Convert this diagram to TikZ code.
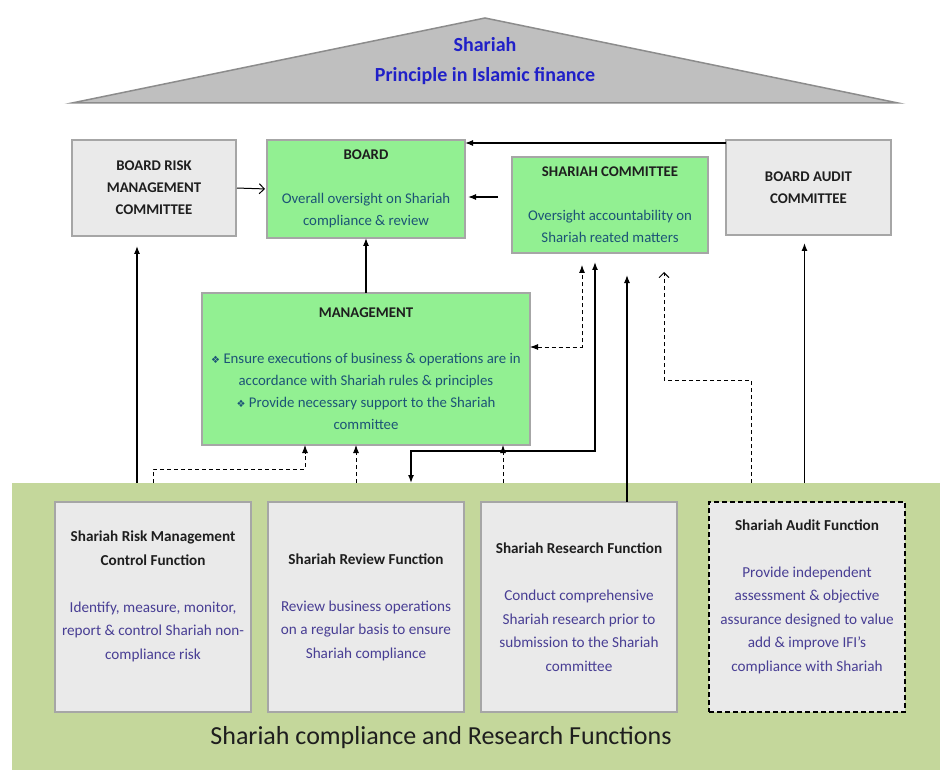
\documentclass[tikz,border=0pt]{standalone}
\usepackage{fontspec}
\setmainfont{Carlito}
\newfontfamily\symfont{DejaVu Sans}
\usetikzlibrary{arrows.meta,positioning}
\definecolor{roofgray}{RGB}{191,191,191}
\definecolor{roofedge}{RGB}{140,140,140}
\definecolor{boxgray}{RGB}{234,234,234}
\definecolor{edgegray}{RGB}{166,166,166}
\definecolor{boardgreen}{RGB}{146,240,146}
\definecolor{bandgreen}{RGB}{196,215,155}
\definecolor{roofblue}{RGB}{32,32,200}
\definecolor{tealtext}{RGB}{28,84,118}
\definecolor{fntext}{RGB}{72,62,148}
\definecolor{titletext}{RGB}{30,30,30}
\newcommand{\bul}{{\symfont\fontsize{10}{10}\selectfont ❖}\ }
\newcommand{\gtxt}[1]{{\color{tealtext}#1}}
\newcommand{\ftxt}[1]{{\color{fntext}#1}}

\begin{document}
\begin{tikzpicture}[
    x=1pt, y=1pt,
    every node/.style={inner sep=0pt, outer sep=0pt},
    box/.style={rectangle, draw=edgegray, line width=1.2pt, align=center, text=titletext, font=\fontsize{14.8}{22}\selectfont},
    greybox/.style={box, fill=boxgray},
    greenbox/.style={box, fill=boardgreen},
    fnbox/.style={box, fill=boxgray, minimum width=196pt, minimum height=210pt, font=\fontsize{15.2}{23.5}\selectfont},
    auditbox/.style={fnbox, draw=black, dash pattern=on 5pt off 3pt, line width=1.5pt},
    arrow/.style={-{Latex[length=8pt,width=6pt]}, line width=1.2pt},
    dblarrow/.style={{Latex[length=8pt,width=6pt]}-{Latex[length=8pt,width=6pt]}, line width=1.4pt},
    darrow/.style={arrow, line width=0.9pt, dash pattern=on 4pt off 3pt},
    ddarrow/.style={dblarrow, line width=0.9pt, dash pattern=on 4pt off 3pt},
    openarrow/.style={-{Straight Barb[length=5pt,width=10pt]}, line width=1pt},
    dopenarrow/.style={openarrow, line width=0.9pt, dash pattern=on 4pt off 3pt}
]
\fill[white] (0,0) rectangle (940,-770);
\useasboundingbox (0,0) rectangle (940,-770);

% Roof
\draw[fill=roofgray, draw=roofedge, line width=1.5pt] (72,-103) -- (485,-18) -- (898,-103) -- cycle;
\node[font=\bfseries\fontsize{20}{30}\selectfont, text=roofblue, align=center] (roof) at (485,-61) {Shariah\\Principle in Islamic finance};

% Board level
\node[greybox, minimum width=164pt, minimum height=96pt, anchor=north west] (brmc) at (72,-140) {\textbf{BOARD RISK}\\\textbf{MANAGEMENT}\\\textbf{COMMITTEE}};
\node[greenbox, minimum width=198pt, minimum height=98pt, right=31pt of brmc.north east, anchor=north west] (board) {\textbf{BOARD}\\[22pt]\gtxt{Overall oversight on Shariah}\\\gtxt{compliance \& review}};
\node[greenbox, minimum width=196pt, minimum height=96pt, right=47pt of board.north east, anchor=north west, yshift=-17pt] (shcomm) {\textbf{SHARIAH COMMITTEE}\\[22pt]\gtxt{Oversight accountability on}\\\gtxt{Shariah reated matters}};
\node[greybox, minimum width=165pt, minimum height=95pt, anchor=north west] (bac) at (726,-140) {\textbf{BOARD AUDIT}\\\textbf{COMMITTEE}};

% Management
\node[greenbox, minimum width=328pt, minimum height=152pt, below=55pt of board.south, anchor=north] (mgmt) {\textbf{MANAGEMENT}\\[24pt]\gtxt{\bul Ensure executions of business \& operations are in}\\\gtxt{accordance with Shariah rules \& principles}\\\gtxt{\bul Provide necessary support to the Shariah}\\\gtxt{committee}};

% Functions band
\node[rectangle, fill=bandgreen, minimum width=928pt, minimum height=287pt, anchor=north west] (band) at (12,-483) {};
\node[fnbox, anchor=north west] (riskfn) at (55,-502) {\textbf{Shariah Risk Management}\\\textbf{Control Function}\\[23.5pt]\ftxt{Identify, measure, monitor,}\\\ftxt{report \& control Shariah non-}\\\ftxt{compliance risk}\\\mbox{}};
\node[fnbox, right=17pt of riskfn] (reviewfn) {\textbf{Shariah Review Function}\\[23.5pt]\ftxt{Review business operations}\\\ftxt{on a regular basis to ensure}\\\ftxt{Shariah compliance}};
\node[fnbox, right=17pt of reviewfn] (researchfn) {\textbf{Shariah Research Function}\\[23.5pt]\ftxt{Conduct comprehensive}\\\ftxt{Shariah research prior to}\\\ftxt{submission to the Shariah}\\\ftxt{committee}};
\node[auditbox, right=32pt of researchfn] (auditfn) {\textbf{Shariah Audit Function}\\[23.5pt]\ftxt{Provide independent}\\\ftxt{assessment \& objective}\\\ftxt{assurance designed to value}\\\ftxt{add \& improve IFI’s}\\\ftxt{compliance with Shariah}\\\mbox{}};
\node[font=\fontsize{26}{30}\selectfont, text=titletext] (bandlabel) at (441,-738) {Shariah compliance and Research Functions};

% Connectors
\draw[arrow] ([yshift=-3pt]bac.north west) -- ([yshift=-3pt]board.north east);
\draw[arrow, shorten <=14pt, shorten >=3pt] ([yshift=8pt]shcomm.west) -- ([yshift=8pt]shcomm.west -| board.east);
\draw[openarrow, shorten <=1pt, shorten >=2pt] (brmc.east) -- (board.west);
\draw[arrow] (mgmt.north) -- (board.south);
\draw[arrow, shorten >=10pt] ([xshift=-17pt]brmc.south |- band.north) -- ([xshift=-17pt]brmc.south);
\draw[darrow] (riskfn.north |- band.north) -- ++(0,14) -| ([xshift=103pt]mgmt.south west);
\draw[darrow] ([xshift=-10pt]reviewfn.north |- band.north) -- ([xshift=-10pt]reviewfn.north |- mgmt.south);
\draw[darrow] ([xshift=22pt]researchfn.north west |- band.north) -- ([xshift=22pt]researchfn.north west |- mgmt.south);
\coordinate (revbend) at ([xshift=45pt,yshift=-6pt]mgmt.south);
\draw[dblarrow, shorten <=9pt] ([xshift=83pt]shcomm.south west) |- (revbend) -- (revbend |- band.north);
\draw[ddarrow, shorten >=12pt] ([yshift=22pt]mgmt.east) -| ([xshift=70pt]shcomm.south west);
\draw[arrow, shorten >=22pt] ([xshift=146pt]researchfn.north west) -- ([xshift=146pt]researchfn.north west |- shcomm.south);
\coordinate (auditbend) at ([xshift=152pt,yshift=-127pt]shcomm.south west);
\draw[dopenarrow, shorten >=19pt] ([xshift=42pt]auditfn.north west |- band.north) |- (auditbend) -- (auditbend |- shcomm.south);
\draw[arrow, shorten >=8pt] ([xshift=-4pt]bac.south |- band.north) -- ([xshift=-4pt]bac.south);

\end{tikzpicture}
\end{document}
